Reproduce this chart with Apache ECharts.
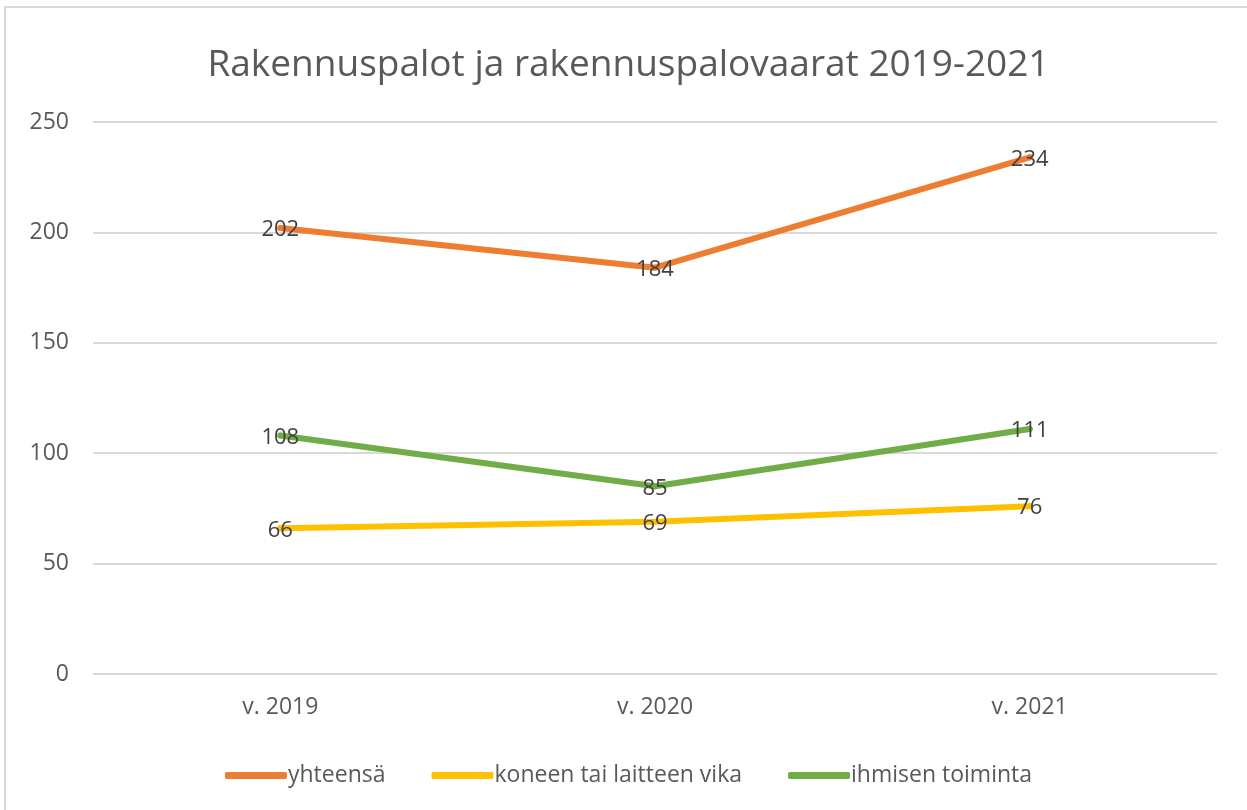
<!DOCTYPE html>
<html>
<head>
<meta charset="utf-8">
<script src="https://cdn.jsdelivr.net/npm/echarts@6/dist/echarts.min.js"></script>
<style>
  html, body { margin: 0; padding: 0; background: #fff; }
  #main { width: 1247px; height: 810px; box-sizing: border-box; border: 2px solid #d9d9d9; border-right: none; border-bottom: none; margin: 6px 0 0 4px; }
</style>
</head>
<body>
<div id="main"></div>
<script>
var categories = ['v. 2019', 'v. 2020', 'v. 2021'];
var yhteensa = [202, 184, 234];
var koneenVika = [66, 69, 76];
var ihmisenToiminta = [108, 85, 111];
var seriesNames = ['yhteensä', 'koneen tai laitteen vika', 'ihmisen toiminta'];
var colors = ['#ED7D31', '#FFC000', '#70AD47'];

var font = '"Open Sans", sans-serif';
var chart = echarts.init(document.getElementById('main'));

function lineSeries(name, data, color, z) {
  return {
    name: name,
    type: 'line',
    data: data,
    z: z,
    symbol: 'circle',
    symbolSize: 6,
    showSymbol: true,
    lineStyle: { color: color, width: 6, cap: 'round' },
    itemStyle: { color: color, borderWidth: 0 },
    label: {
      show: true,
      position: 'inside',
      offset: [0, 2],
      color: '#404040',
      fontSize: 22,
      fontFamily: font
    }
  };
}

chart.setOption({
  animation: false,
  backgroundColor: '#fff',
  color: colors,
  title: {
    text: 'Rakennuspalot ja rakennuspalovaarat 2019-2021',
    left: 'center',
    top: 34,
    textStyle: { color: '#595959', fontSize: 37, fontWeight: 'normal', fontFamily: font }
  },
  legend: {
    bottom: 24,
    left: 'center',
    itemWidth: 62,
    itemHeight: 7,
    itemGap: 46,
    icon: 'roundRect',
    textStyle: { color: '#595959', fontSize: 23, fontFamily: font, padding: [0, 0, 0, -4] },
    data: seriesNames
  },
  grid: { left: 87, right: 34, top: 114, bottom: 142 },
  xAxis: {
    type: 'category',
    data: categories,
    boundaryGap: true,
    axisLine: { show: false },
    axisTick: { show: false },
    axisLabel: { color: '#595959', fontSize: 23, fontFamily: font, margin: 22 }
  },
  yAxis: {
    type: 'value',
    min: 0,
    max: 250,
    interval: 50,
    axisLine: { show: false },
    axisTick: { show: false },
    splitLine: { lineStyle: { color: '#d9d9d9', width: 2 } },
    axisLabel: { color: '#595959', fontSize: 23, fontFamily: font, margin: 24 }
  },
  series: [
    lineSeries(seriesNames[0], yhteensa, colors[0], 3),
    lineSeries(seriesNames[1], koneenVika, colors[1], 2),
    lineSeries(seriesNames[2], ihmisenToiminta, colors[2], 2)
  ]
});
</script>
</body>
</html>
